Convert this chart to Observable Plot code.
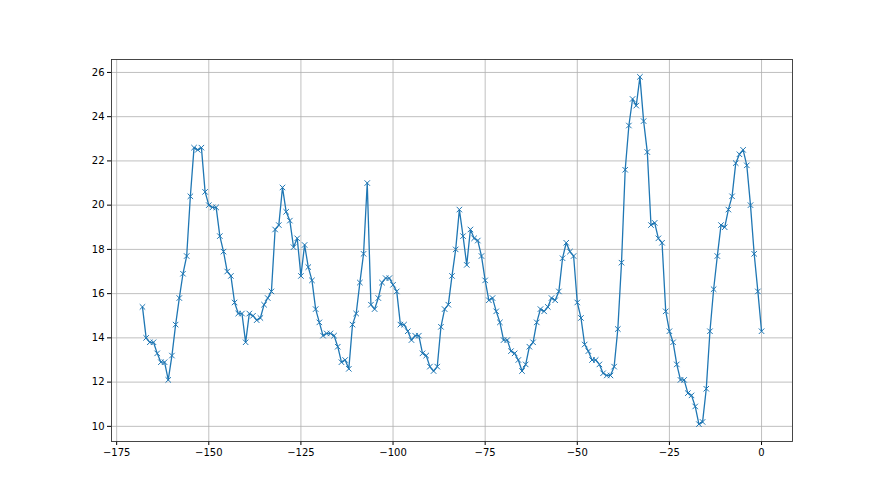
<!DOCTYPE html>
<html>
<head>
<meta charset="utf-8">
<script src="https://cdn.jsdelivr.net/npm/d3@7"></script>
<script src="https://cdn.jsdelivr.net/npm/@observablehq/plot@0.6"></script>
<style>
  html, body { margin: 0; padding: 0; background: #fff; }
  #chart { width: 880px; height: 495px; }
</style>
</head>
<body>
<div id="chart"></div>
<script>
const xStart = -168;
const values = [
  15.4, 14.0, 13.8, 13.8, 13.3, 12.9, 12.9, 12.1, 13.2, 14.6,
  15.8, 16.9, 17.7, 20.4, 22.6, 22.5, 22.6, 20.6, 20.0, 19.9,
  19.9, 18.6, 17.9, 17.0, 16.8, 15.6, 15.1, 15.1, 13.8, 15.1,
  15.0, 14.8, 14.9, 15.5, 15.8, 16.1, 18.9, 19.1, 20.8, 19.7,
  19.3, 18.1, 18.5, 16.8, 18.2, 17.2, 16.6, 15.3, 14.7, 14.1,
  14.2, 14.2, 14.1, 13.6, 12.9, 13.0, 12.6, 14.6, 15.1, 16.5,
  17.8, 21.0, 15.5, 15.3, 15.8, 16.5, 16.7, 16.7, 16.4, 16.1,
  14.6, 14.6, 14.3, 13.9, 14.1, 14.1, 13.3, 13.2, 12.7, 12.5,
  12.7, 14.5, 15.3, 15.5, 16.8, 18.0, 19.8, 18.6, 17.3, 18.9,
  18.5, 18.4, 17.7, 16.6, 15.7, 15.8, 15.2, 14.7, 13.9, 13.9,
  13.4, 13.3, 13.0, 12.5, 12.8, 13.6, 13.8, 14.7, 15.3, 15.2,
  15.4, 15.8, 15.7, 16.1, 17.6, 18.3, 17.9, 17.7, 15.6, 14.9,
  13.7, 13.4, 13.0, 13.0, 12.8, 12.4, 12.3, 12.3, 12.7, 14.4,
  17.4, 21.6, 23.6, 24.8, 24.5, 25.8, 23.8, 22.4, 19.1, 19.2,
  18.5, 18.3, 15.2, 14.3, 13.8, 12.8, 12.1, 12.1, 11.5, 11.4,
  10.9, 10.1, 10.2, 11.7, 14.3, 16.2, 17.7, 19.1, 19.0, 19.8,
  20.4, 21.9, 22.3, 22.5, 21.8, 20.0, 17.8, 16.1, 14.3
];
const xTicks = [-175, -150, -125, -100, -75, -50, -25, 0];
const yTicks = [10, 12, 14, 16, 18, 20, 22, 24, 26];

const data = values.map((v, i) => ({x: xStart + i, y: v}));
const fmt = d => d < 0 ? "\u2212" + (-d) : String(d);
const blue = "#1f77b4";

const chart = Plot.plot({
  width: 880,
  height: 495,
  marginLeft: 111,
  marginRight: 88,
  marginTop: 59,
  marginBottom: 54,
  style: {fontFamily: "DejaVu Sans", fontSize: "10px", background: "#fff", color: "#000"},
  x: {domain: [-176.4, 8.4], ticks: xTicks, tickFormat: fmt, tickSize: 4, tickPadding: 3, label: null},
  y: {domain: [9.315, 26.585], ticks: yTicks, tickFormat: fmt, tickSize: 4, tickPadding: 3, label: null},
  marks: [
    Plot.ruleX(xTicks, {stroke: "#b0b0b0", strokeWidth: 0.8}),
    Plot.ruleY(yTicks, {stroke: "#b0b0b0", strokeWidth: 0.8}),
    Plot.line(data, {x: "x", y: "y", stroke: blue, strokeWidth: 1.3}),
    Plot.dot(data, {x: "x", y: "y", symbol: "times", r: 2.6, stroke: blue, strokeWidth: 1}),
    Plot.frame({stroke: "#333", strokeWidth: 0.9})
  ]
});
document.getElementById("chart").appendChild(chart);
</script>
</body>
</html>
